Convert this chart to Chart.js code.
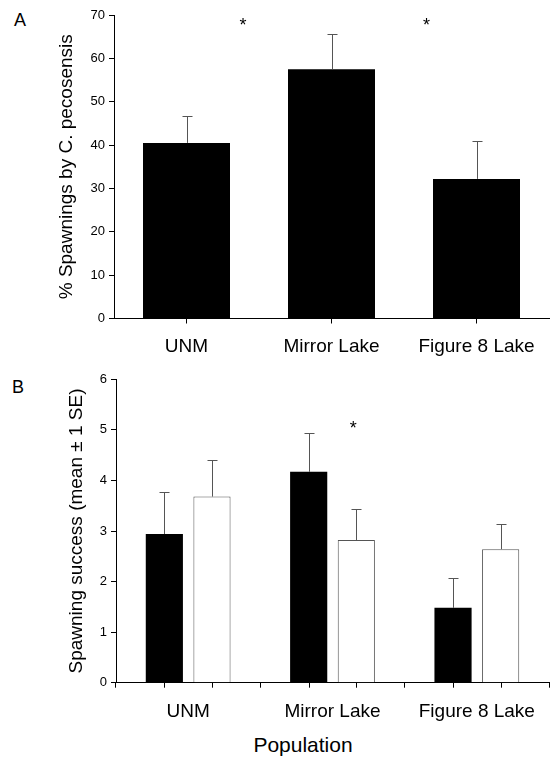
<!DOCTYPE html>
<html>
<head>
<meta charset="utf-8">
<script src="https://cdn.jsdelivr.net/npm/chart.js@4.4.1/dist/chart.umd.min.js"></script>
<style>
  html, body { margin: 0; padding: 0; background: #fff; }
  body { width: 551px; height: 759px; position: relative; overflow: hidden; font-family: "Liberation Sans", Arial, sans-serif; }
  .box { position: absolute; left: 0; width: 551px; }
  .lbl { position: absolute; color: #000; white-space: nowrap; }
</style>
</head>
<body>
<div class="lbl" style="left:14px; top:11px; font-size:18px; line-height:18px;">A</div>
<div class="box" style="top:0; height:360px;"><canvas id="chartA"></canvas></div>
<div class="lbl" style="left:12px; top:378px; font-size:18px; line-height:18px;">B</div>
<div class="box" style="top:360px; height:370px;"><canvas id="chartB"></canvas></div>
<div class="lbl" style="left:303px; top:734px; font-size:21px; line-height:21px; transform:translateX(-50%);">Population</div>

<script>
const populations = ["UNM", "Mirror Lake", "Figure 8 Lake"];

// panel A - % spawnings by C. pecosensis
const pctSpawn = [40.5, 57.5, 32.2];
const pctSpawnSE = [6.3, 8.1, 8.7];
const yTicksA = [0, 10, 20, 30, 40, 50, 60, 70];
const starsA = [[0.39, 68.7], [1.655, 68.7]];   // [category index, value]

// panel B - spawning success
const successBlack = [2.94, 4.17, 1.48];
const successBlackSE = [0.83, 0.77, 0.59];
const successWhite = [3.68, 2.82, 2.64];
const successWhiteSE = [0.72, 0.61, 0.50];
const yTicksB = [0, 1, 2, 3, 4, 5, 6];
const starsB = [[1.144, 5.12]];

Chart.defaults.font.family = '"Liberation Sans", Arial, sans-serif';
Chart.defaults.color = '#000';

// error bars (+1 SE) drawn on top of bars
const errorBars = {
  id: 'errorBars',
  afterDatasetsDraw(chart) {
    const ctx = chart.ctx, y = chart.scales.y;
    chart.data.datasets.forEach((ds, i) => {
      if (!ds.se) return;
      chart.getDatasetMeta(i).data.forEach((bar, j) => {
        const top = Math.round(y.getPixelForValue(ds.data[j] + ds.se[j])) + 0.5;
        const x = Math.round(bar.x) + 0.5;
        ctx.save();
        ctx.strokeStyle = '#555';
        ctx.lineWidth = 1;
        ctx.beginPath();
        ctx.moveTo(x, bar.y);
        ctx.lineTo(x, top);
        ctx.moveTo(x - 5, top);
        ctx.lineTo(x + 5, top);
        ctx.stroke();
        ctx.restore();
      });
    });
  }
};

// significance asterisks
const stars = {
  id: 'stars',
  afterDraw(chart, args, opts) {
    if (!opts.points) return;
    const ctx = chart.ctx;
    ctx.save();
    ctx.fillStyle = '#000';
    ctx.font = '18px "Liberation Sans", Arial, sans-serif';
    ctx.textAlign = 'center';
    ctx.textBaseline = 'alphabetic';
    opts.points.forEach(p => {
      const x = chart.scales.x.getPixelForValue(p[0]);
      const y = chart.scales.y.getPixelForValue(p[1]);
      ctx.fillText('*', x, y + 18 * 0.57);
    });
    ctx.restore();
  }
};

// tick marks under each bar (panel B)
const barTicks = {
  id: 'barTicks',
  afterDraw(chart, args, opts) {
    if (!opts.on) return;
    const ctx = chart.ctx, b = chart.chartArea.bottom;
    ctx.save();
    ctx.strokeStyle = '#000';
    ctx.lineWidth = 1;
    chart.data.datasets.forEach((ds, i) => {
      chart.getDatasetMeta(i).data.forEach(bar => {
        const x = Math.round(bar.x) + 0.5;
        ctx.beginPath();
        ctx.moveTo(x, b);
        ctx.lineTo(x, b + 5);
        ctx.stroke();
      });
    });
    ctx.restore();
  }
};

function yAxis(max, ticks, title, width, titlePad) {
  return {
    min: 0, max: max,
    afterBuildTicks(s) { s.ticks = ticks.map(v => ({ value: v })); },
    grid: { drawOnChartArea: false, tickLength: 5, tickColor: '#000' },
    border: { color: '#000', width: 1 },
    ticks: { font: { size: 13 }, padding: 4 },
    title: { display: true, text: title, font: { size: 19 }, padding: { top: titlePad, bottom: 0 } },
    afterFit(s) { s.width = width; }
  };
}

function xAxis(height, gridOffset, pad) {
  return {
    offset: true,
    grid: { drawOnChartArea: false, offset: gridOffset, tickLength: 5, tickColor: '#000' },
    border: { color: '#000', width: 1 },
    ticks: { font: { size: 19 }, padding: pad, maxRotation: 0, autoSkip: false },
    afterFit(s) { s.height = height; }
  };
}

new Chart(document.getElementById('chartA'), {
  type: 'bar',
  data: {
    labels: populations,
    datasets: [{
      label: '% spawnings',
      data: pctSpawn,
      se: pctSpawnSE,
      backgroundColor: '#000',
      borderWidth: 0,
      categoryPercentage: 1,
      barPercentage: 0.6
    }]
  },
  options: {
    responsive: true, maintainAspectRatio: false, animation: false, devicePixelRatio: 1,
    layout: { padding: { top: 15, right: 2, bottom: 0, left: 0 } },
    plugins: { legend: { display: false }, tooltip: { enabled: false }, stars: { points: starsA } },
    scales: {
      x: xAxis(41.5, false, 12),
      y: yAxis(70, yTicksA, '% Spawnings by C. pecosensis', 114, 55.6)
    }
  },
  plugins: [errorBars, stars]
});

new Chart(document.getElementById('chartB'), {
  type: 'bar',
  data: {
    labels: populations,
    datasets: [{
      label: 'black',
      data: successBlack,
      se: successBlackSE,
      backgroundColor: '#000',
      borderWidth: 0,
      categoryPercentage: 0.66,
      barPercentage: 0.78
    }, {
      label: 'white',
      data: successWhite,
      se: successWhiteSE,
      backgroundColor: '#fff',
      borderColor: '#555',
      borderWidth: 1,
      categoryPercentage: 0.66,
      barPercentage: 0.78
    }]
  },
  options: {
    responsive: true, maintainAspectRatio: false, animation: false, devicePixelRatio: 1,
    layout: { padding: { top: 19.3, right: 2, bottom: 0, left: 0 } },
    plugins: { legend: { display: false }, tooltip: { enabled: false }, stars: { points: starsB }, barTicks: { on: true } },
    scales: {
      x: xAxis(47.3, true, 13),
      y: yAxis(6, yTicksB, 'Spawning success (mean \u00B1 1 SE)', 116, 65.2)
    }
  },
  plugins: [errorBars, stars, barTicks]
});
</script>
</body>
</html>
